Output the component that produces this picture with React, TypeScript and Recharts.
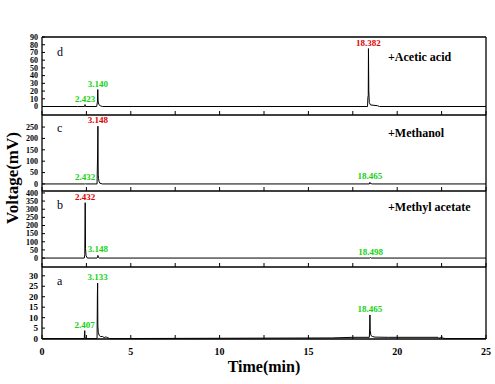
import React from "react"
import { LineChart, Line, XAxis, YAxis, ReferenceDot, ReferenceLine } from "recharts"

// retention time (min) / detector signal (mV) for each run
const dTime = [0, 2.0, 2.4, 2.423, 2.45, 3.08, 3.12, 3.14, 3.16, 3.2, 3.28, 3.4, 18.33, 18.35, 18.37, 18.382, 18.4, 18.43, 18.5, 18.9, 19.0, 25]
const dSignal = [0, 0, 0, 2.5, 0, 0, 6, 22, 7, 2.5, 1, 0, 0, 12, 14, 75, 20, 5, 2, 1, 0, 0]

const cTime = [0, 2.4, 2.432, 2.46, 3.1, 3.13, 3.148, 3.165, 3.18, 3.21, 3.26, 3.4, 18.43, 18.465, 18.5, 18.6, 25]
const cSignal = [0, 0, 2, 0, 0, 127, 254, 40, 25, 12, 3, 0, 0, 7, 1.5, 0, 0]

const bTime = [0, 2.38, 2.41, 2.432, 2.45, 2.48, 2.55, 3.1, 3.13, 3.148, 3.17, 3.22, 18.46, 18.498, 18.53, 25]
const bSignal = [0, 0, 20, 340, 60, 15, 0, 0, 5, 16, 4, 0, 0, 3, 0, 0]

const aTime = [0, 2.38, 2.395, 2.407, 2.42, 2.44, 3.1, 3.12, 3.133, 3.145, 3.17, 3.22, 3.3, 3.4, 3.5, 3.6, 3.65, 3.7, 3.8, 16.3, 17.5, 18.43, 18.45, 18.465, 18.48, 18.52, 18.6, 18.75, 19.5, 22.3, 22.35, 22.45, 22.55, 22.6, 22.7, 25]
const aSignal = [0, 0, 2.5, 3.8, 1, 0, 0, 21.6, 26.5, 6, 3, 1.5, 1, 1, 0.5, 0.8, 0.6, 0.5, 0, 0.3, 0.6, 0.6, 5, 11.3, 4, 1.5, 1, 0.7, 0.6, 0.6, 0.1, 0.6, 0.6, 0.2, 0, 0]

const dPeaks = [
    { time: 2.423, height: 2.5, label: "2.423" },
    { time: 3.14, height: 22, label: "3.140" },
    { time: 18.382, height: 75, label: "18.382", major: true },
]
const cPeaks = [
    { time: 2.432, height: 2, label: "2.432" },
    { time: 3.148, height: 254, label: "3.148", major: true },
    { time: 18.465, height: 7, label: "18.465" },
]
const bPeaks = [
    { time: 2.432, height: 340, label: "2.432", major: true },
    { time: 3.148, height: 16, label: "3.148" },
    { time: 18.498, height: 3, label: "18.498" },
]
const aPeaks = [
    { time: 2.407, height: 3.8, label: "2.407" },
    { time: 3.133, height: 26.5, label: "3.133" },
    { time: 18.465, height: 11.3, label: "18.465" },
]

const xTicks = [0, 2.5, 5, 7.5, 10, 12.5, 15, 17.5, 20, 22.5, 25]
const dTicks = [0, 10, 20, 30, 40, 50, 60, 70, 80, 90]
const cTicks = [0, 50, 100, 150, 200, 250]
const bTicks = [0, 50, 100, 150, 200, 250, 300, 350, 400]
const aTicks = [0, 5, 10, 15, 20, 25, 30]

const FONT = '"Liberation Serif", "Times New Roman", serif'

function XTick(props: any) {
    const { x, y, payload, showLabel } = props
    return (
        <g>
            <line x1={x} x2={x} y1={y} y2={y - 4} stroke="#000" strokeWidth={1} />
            {showLabel && payload.value % 5 === 0 && (
                <text x={x} y={y + 16} textAnchor="middle" fontFamily={FONT} fontWeight="bold" fontSize={10} fill="#000">
                    {payload.value}
                </text>
            )}
        </g>
    )
}

function YTick(props: any) {
    const { x, y, payload, size } = props
    return (
        <g>
            <line x1={x} x2={x + 3} y1={y} y2={y} stroke="#000" strokeWidth={1} />
            <text x={x - 4} y={y} dy="0.35em" textAnchor="end" fontFamily={FONT} fontWeight="bold" fontSize={size} fill="#000">
                {payload.value}
            </text>
        </g>
    )
}

function Panel(props: any) {
    const { time, signal, peaks, domain, ticks, top, height, bottom, frameTop, tickFont } = props
    const data = time.map((t: number, i: number) => ({ t, v: signal[i] }))

    return (
        <div style={{ position: "absolute", left: 0, top: top - 5 }}>
            <LineChart width={495} height={height + 25} data={data} margin={{ top: 5, right: 9, bottom: 0, left: 0 }}>
                <XAxis
                    dataKey="t"
                    type="number"
                    domain={[0, 25]}
                    ticks={xTicks}
                    interval={0}
                    height={20}
                    tickSize={0}
                    tickMargin={0}
                    tickLine={false}
                    allowDataOverflow
                    axisLine={{ stroke: "#000", strokeWidth: 1.3 }}
                    tick={<XTick showLabel={bottom} />}
                />
                <YAxis
                    type="number"
                    domain={domain}
                    ticks={ticks}
                    interval={0}
                    width={42}
                    tickSize={0}
                    tickMargin={0}
                    tickLine={false}
                    allowDataOverflow
                    axisLine={{ stroke: "#000", strokeWidth: 1.3 }}
                    tick={<YTick size={tickFont} />}
                />
                <ReferenceLine x={25} stroke="#000" strokeWidth={1.3} />
                {frameTop && <ReferenceLine y={domain[1]} stroke="#000" strokeWidth={1.3} />}
                <Line dataKey="v" type="linear" stroke="#000" strokeWidth={1} dot={false} isAnimationActive={false} />
                {peaks.map((p: any) => (
                    <ReferenceDot
                        key={p.label}
                        x={p.time}
                        y={p.height}
                        r={0}
                        fill="none"
                        stroke="none"
                        label={{
                            value: p.label,
                            position: "top",
                            offset: 3,
                            fill: p.major ? "#e00000" : "#14d214",
                            fontSize: 9,
                            fontWeight: "bold",
                            fontFamily: FONT,
                        }}
                    />
                ))}
            </LineChart>
        </div>
    )
}

const tagStyle: React.CSSProperties = {
    position: "absolute",
    left: 388,
    fontFamily: FONT,
    fontWeight: "bold",
    fontSize: 12,
    lineHeight: "12px",
    whiteSpace: "nowrap",
}

const letterStyle: React.CSSProperties = {
    position: "absolute",
    left: 57,
    fontFamily: FONT,
    fontSize: 12,
    lineHeight: "12px",
    color: "#000022",
}

export default function App() {
    return (
        <div style={{ position: "absolute", left: 0, top: 0, width: 495, height: 384, background: "#fff", overflow: "hidden" }}>
            <Panel time={dTime} signal={dSignal} peaks={dPeaks} domain={[-11, 90]} ticks={dTicks} top={37} height={78} frameTop tickFont={8} />
            <Panel time={cTime} signal={cSignal} peaks={cPeaks} domain={[-31, 303]} ticks={cTicks} top={115} height={76} tickFont={8} />
            <Panel time={bTime} signal={bSignal} peaks={bPeaks} domain={[-55, 412]} ticks={bTicks} top={191} height={76} tickFont={8} />
            <Panel time={aTime} signal={aSignal} peaks={aPeaks} domain={[-0.2, 34.2]} ticks={aTicks} top={267} height={72} bottom tickFont={9} />

            <div style={{ ...letterStyle, top: 46 }}>d</div>
            <div style={{ ...letterStyle, top: 122 }}>c</div>
            <div style={{ ...letterStyle, top: 199 }}>b</div>
            <div style={{ ...letterStyle, top: 275 }}>a</div>

            <div style={{ ...tagStyle, top: 51 }}>+Acetic acid</div>
            <div style={{ ...tagStyle, top: 127 }}>+Methanol</div>
            <div style={{ ...tagStyle, top: 201 }}>+Methyl acetate</div>

            <div
                style={{
                    position: "absolute",
                    left: 12,
                    top: 178,
                    transform: "translate(-50%, -50%) rotate(-90deg)",
                    fontFamily: FONT,
                    fontWeight: "bold",
                    fontSize: 17,
                    lineHeight: "17px",
                    whiteSpace: "nowrap",
                }}
            >
                Voltage(mV)
            </div>
            <div
                style={{
                    position: "absolute",
                    left: 264,
                    top: 367,
                    transform: "translate(-50%, -50%)",
                    fontFamily: FONT,
                    fontWeight: "bold",
                    fontSize: 16,
                    lineHeight: "16px",
                    whiteSpace: "nowrap",
                }}
            >
                Time(min)
            </div>
        </div>
    )
}
